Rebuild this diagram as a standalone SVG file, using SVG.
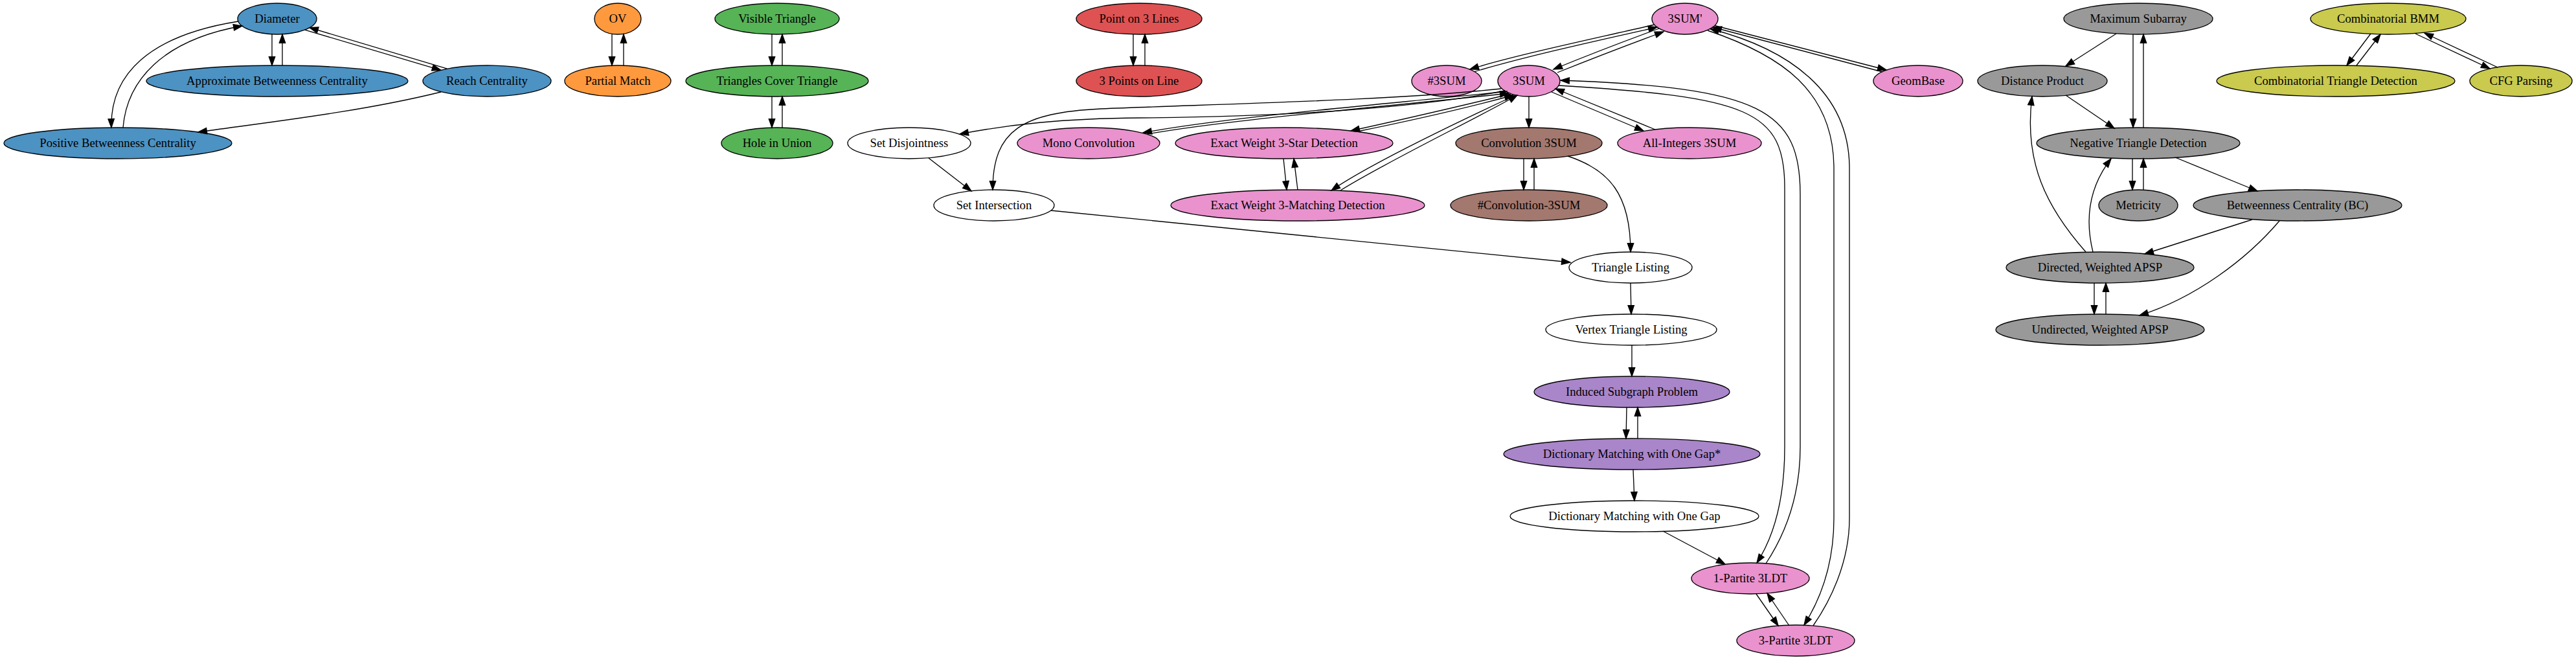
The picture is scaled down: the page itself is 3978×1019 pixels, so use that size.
<svg xmlns="http://www.w3.org/2000/svg" width="3978" height="1019" viewBox="0 0 3978 1019">
<style>
ellipse{stroke:#000;stroke-width:1.33}
.blue{fill:#4c92c3}.orange{fill:#ff993e}.green{fill:#56b356}.red{fill:#de5253}.pink{fill:#e992ce}.brown{fill:#a3786f}.purple{fill:#a985ca}.gray{fill:#999999}.olive{fill:#c9ca4e}.white{fill:#ffffff}
text{font-family:"Liberation Serif","Times New Roman",serif;font-size:18.67px;text-anchor:middle;fill:#000}
#connectors path{fill:none;stroke:#000;stroke-width:1.33;marker-end:url(#ah)}
</style>
<defs>
<marker id="ah" markerWidth="16" markerHeight="12" refX="13.33" refY="4.67" orient="auto" markerUnits="userSpaceOnUse" overflow="visible"><path d="M0,0 L13.33,4.67 L0,9.33 z" fill="#000" stroke="#000" stroke-width="1.33"/></marker>
</defs>
<rect x="0" y="0" width="3978" height="1019" fill="#fff"/>
<g id="nodes">
<g id="n_diam"><ellipse class="blue" cx="428" cy="29" rx="61" ry="24"/><text x="428" y="35">Diameter</text></g>
<g id="n_abc"><ellipse class="blue" cx="428" cy="125" rx="202" ry="24"/><text x="428" y="131">Approximate Betweenness Centrality</text></g>
<g id="n_reach"><ellipse class="blue" cx="752" cy="125" rx="99" ry="24"/><text x="752" y="131">Reach Centrality</text></g>
<g id="n_pbc"><ellipse class="blue" cx="182" cy="221" rx="176" ry="24"/><text x="182" y="227">Positive Betweenness Centrality</text></g>
<g id="n_ov"><ellipse class="orange" cx="954" cy="29" rx="36" ry="24"/><text x="954" y="35">OV</text></g>
<g id="n_pm"><ellipse class="orange" cx="954" cy="125" rx="82" ry="24"/><text x="954" y="131">Partial Match</text></g>
<g id="n_vt"><ellipse class="green" cx="1200" cy="29" rx="96" ry="24"/><text x="1200" y="35">Visible Triangle</text></g>
<g id="n_tct"><ellipse class="green" cx="1200" cy="125" rx="141" ry="24"/><text x="1200" y="131">Triangles Cover Triangle</text></g>
<g id="n_hiu"><ellipse class="green" cx="1200" cy="221" rx="86" ry="24"/><text x="1200" y="227">Hole in Union</text></g>
<g id="n_p3l"><ellipse class="red" cx="1759" cy="29" rx="97" ry="24"/><text x="1759" y="35">Point on 3 Lines</text></g>
<g id="n_3pl"><ellipse class="red" cx="1759" cy="125" rx="97" ry="24"/><text x="1759" y="131">3 Points on Line</text></g>
<g id="n_3sump"><ellipse class="pink" cx="2602" cy="29" rx="51" ry="24"/><text x="2602" y="35">3SUM'</text></g>
<g id="n_h3sum"><ellipse class="pink" cx="2234" cy="125" rx="54" ry="24"/><text x="2234" y="131">#3SUM</text></g>
<g id="n_3sum"><ellipse class="pink" cx="2361" cy="125" rx="48" ry="24"/><text x="2361" y="131">3SUM</text></g>
<g id="n_geom"><ellipse class="pink" cx="2962" cy="125" rx="69" ry="24"/><text x="2962" y="131">GeomBase</text></g>
<g id="n_maxsub"><ellipse class="gray" cx="3302" cy="29" rx="115" ry="24"/><text x="3302" y="35">Maximum Subarray</text></g>
<g id="n_dp"><ellipse class="gray" cx="3154" cy="125" rx="100" ry="24"/><text x="3154" y="131">Distance Product</text></g>
<g id="n_cbmm"><ellipse class="olive" cx="3688" cy="29" rx="120" ry="24"/><text x="3688" y="35">Combinatorial BMM</text></g>
<g id="n_ctd"><ellipse class="olive" cx="3607" cy="125" rx="184" ry="24"/><text x="3607" y="131">Combinatorial Triangle Detection</text></g>
<g id="n_cfg"><ellipse class="olive" cx="3893" cy="125" rx="79" ry="24"/><text x="3893" y="131">CFG Parsing</text></g>
<g id="n_sd"><ellipse class="white" cx="1404" cy="221" rx="95" ry="24"/><text x="1404" y="227">Set Disjointness</text></g>
<g id="n_mono"><ellipse class="pink" cx="1681" cy="221" rx="110" ry="24"/><text x="1681" y="227">Mono Convolution</text></g>
<g id="n_3star"><ellipse class="pink" cx="1983" cy="221" rx="168" ry="24"/><text x="1983" y="227">Exact Weight 3-Star Detection</text></g>
<g id="n_conv"><ellipse class="brown" cx="2361" cy="221" rx="113" ry="24"/><text x="2361" y="227">Convolution 3SUM</text></g>
<g id="n_allint"><ellipse class="pink" cx="2609" cy="221" rx="111" ry="24"/><text x="2609" y="227">All-Integers 3SUM</text></g>
<g id="n_ntd"><ellipse class="gray" cx="3302" cy="221" rx="157" ry="24"/><text x="3302" y="227">Negative Triangle Detection</text></g>
<g id="n_si"><ellipse class="white" cx="1535" cy="317" rx="93" ry="24"/><text x="1535" y="323">Set Intersection</text></g>
<g id="n_3match"><ellipse class="pink" cx="2004" cy="317" rx="196" ry="24"/><text x="2004" y="323">Exact Weight 3-Matching Detection</text></g>
<g id="n_hconv"><ellipse class="brown" cx="2361" cy="317" rx="121" ry="24"/><text x="2361" y="323">#Convolution-3SUM</text></g>
<g id="n_metr"><ellipse class="gray" cx="3302" cy="317" rx="61" ry="24"/><text x="3302" y="323">Metricity</text></g>
<g id="n_bc"><ellipse class="gray" cx="3548" cy="317" rx="161" ry="24"/><text x="3548" y="323">Betweenness Centrality (BC)</text></g>
<g id="n_tl"><ellipse class="white" cx="2518" cy="413" rx="95" ry="24"/><text x="2518" y="419">Triangle Listing</text></g>
<g id="n_dapsp"><ellipse class="gray" cx="3243" cy="413" rx="145" ry="24"/><text x="3243" y="419">Directed, Weighted APSP</text></g>
<g id="n_vtl"><ellipse class="white" cx="2519" cy="509" rx="132" ry="24"/><text x="2519" y="515">Vertex Triangle Listing</text></g>
<g id="n_uapsp"><ellipse class="gray" cx="3243" cy="509" rx="161" ry="24"/><text x="3243" y="515">Undirected, Weighted APSP</text></g>
<g id="n_isp"><ellipse class="purple" cx="2520" cy="605" rx="151" ry="24"/><text x="2520" y="611">Induced Subgraph Problem</text></g>
<g id="n_dmg1"><ellipse class="purple" cx="2520" cy="701" rx="198" ry="24"/><text x="2520" y="707">Dictionary Matching with One Gap*</text></g>
<g id="n_dmg"><ellipse class="white" cx="2524" cy="797" rx="192" ry="24"/><text x="2524" y="803">Dictionary Matching with One Gap</text></g>
<g id="n_1p"><ellipse class="pink" cx="2703" cy="893" rx="91" ry="24"/><text x="2703" y="899">1-Partite 3LDT</text></g>
<g id="n_3p"><ellipse class="pink" cx="2773" cy="989" rx="91" ry="24"/><text x="2773" y="995">3-Partite 3LDT</text></g>
</g>
<g id="connectors">
<path d="M420,53 L420,101"/>
<path d="M436,101 L436,53"/>
<path d="M470.7,46.1 L680.7,108.3"/>
<path d="M690.6,106.2 L478,42.7"/>
<path d="M368,33 C230,55 170,115 172,197"/>
<path d="M190,197 C196,125 250,62 374,40"/>
<path d="M681,142 C560,172 420,188 306,204"/>
<path d="M945,53 L945,101"/>
<path d="M963,101 L963,53"/>
<path d="M1192,53 L1192,101"/>
<path d="M1208,101 L1208,53"/>
<path d="M1192,149 L1192,197"/>
<path d="M1208,197 L1208,149"/>
<path d="M1750,53 L1750,101"/>
<path d="M1768,101 L1768,53"/>
<path d="M2555,38 C2470,58 2340,85 2270,107"/>
<path d="M2277,110.6 C2360,86 2470,62 2559,42"/>
<path d="M2562,44 C2510,63 2450,86 2399,107"/>
<path d="M2405,112 C2460,90 2520,67 2569,49"/>
<path d="M2648,39.5 L2913,108"/>
<path d="M2907,111 L2645,42"/>
<path d="M2637,47 C2750,85 2832,140 2832,260 L2832,800 C2832,880 2805,935 2786,965"/>
<path d="M2800,966 C2825,930 2856,870 2856,800 L2856,260 C2856,140 2760,75 2641,44.5"/>
<path d="M2407,132 C2700,150 2756,170 2756,290 L2756,690 C2756,780 2735,835 2713,869"/>
<path d="M2727,870 C2760,820 2780,760 2780,690 L2780,300 C2780,170 2720,135 2410,124"/>
<path d="M2712,917 L2746,966"/>
<path d="M2763,966 L2729,916"/>
<path d="M2568,820 L2664,871"/>
<path d="M2361,149 L2361,197"/>
<path d="M2353,245 L2353,293"/>
<path d="M2369,293 L2369,245"/>
<path d="M2421,241 C2485,262 2518,300 2518,389"/>
<path d="M2396,142 L2538,202"/>
<path d="M2556,200 L2402,137"/>
<path d="M2328,141 C2150,160 1900,180 1765,205"/>
<path d="M1772,207 C1900,184 2150,164 2330,144"/>
<path d="M2333,145 C2250,165 2150,188 2086,202"/>
<path d="M2096,203 C2160,190 2260,168 2337,147"/>
<path d="M2338,148 C2280,175 2120,250 2056,294"/>
<path d="M2070,294 C2140,250 2290,178 2343,147"/>
<path d="M1982,245 L1987,293"/>
<path d="M2004,293 L1998,245"/>
<path d="M2324,140 C2200,165 2000,180 1760,182 C1640,183 1560,192 1482,207"/>
<path d="M2318,137 C2150,155 1900,160 1700,168 C1580,174 1533,200 1533,293"/>
<path d="M1434,244 L1500,295"/>
<path d="M1623,325 L2425,405"/>
<path d="M2518,437 L2519,485"/>
<path d="M2520,533 L2520,581"/>
<path d="M2512,629 L2511,677"/>
<path d="M2529,677 L2529,629"/>
<path d="M2522,725 L2524,773"/>
<path d="M3268,52 L3190,102"/>
<path d="M3294,53 L3294,197"/>
<path d="M3310,197 L3310,53"/>
<path d="M3190,147 L3265,198"/>
<path d="M3221,389 C3160,320 3125,250 3138,149"/>
<path d="M3232,389 C3220,340 3225,290 3260,245"/>
<path d="M3293,245 L3293,293"/>
<path d="M3310,293 L3310,245"/>
<path d="M3359,243 L3486,295"/>
<path d="M3478,339 L3312,392"/>
<path d="M3520,341 C3470,400 3390,460 3304,487"/>
<path d="M3234,437 L3234,485"/>
<path d="M3252,485 L3252,437"/>
<path d="M3661,52 L3624,101"/>
<path d="M3639,101 L3676,53"/>
<path d="M3730,52 L3845,106"/>
<path d="M3857,104 L3744,51"/>
</g>
</svg>
